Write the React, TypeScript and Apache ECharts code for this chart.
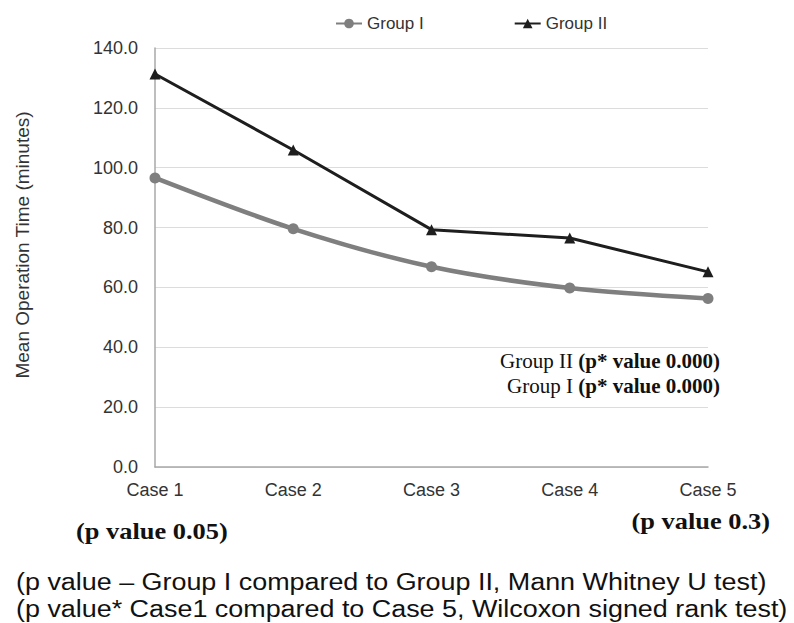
import React, { useEffect, useRef } from "react";
import * as echarts from "echarts";

const categories = ["Case 1", "Case 2", "Case 3", "Case 4", "Case 5"];
const groupI = [96.6, 79.6, 66.9, 59.8, 56.3];
const groupII = [131.3, 105.9, 79.3, 76.5, 65.2];
const yTicks = { min: 0, max: 140, interval: 20 };
const seriesNames = ["Group I", "Group II"];
const yAxisTitle = "Mean Operation Time (minutes)";
const pNotes = ["(p value 0.05)", "(p value 0.3)"];
const groupNotes = ["{a|Group II }{b|(p* value 0.000)}", "{a|Group I }{b|(p* value 0.000)}"];
const noteLines = [
  "(p value – Group I compared to Group II, Mann Whitney U test)",
  "(p value* Case1 compared to Case 5, Wilcoxon signed rank test)",
];

export default function App() {
  const ref = useRef<HTMLDivElement>(null);
  useEffect(() => {
    if (!ref.current) return;
    const chart = echarts.init(ref.current, undefined, { renderer: "svg" });
    const serif = "'Liberation Serif', 'DejaVu Serif', serif";
    const sans = "'Liberation Sans', Arial, sans-serif";
    const rich = {
      a: { fontFamily: serif, fontSize: 21, fill: "#111", color: "#111" },
      b: { fontFamily: serif, fontSize: 21, fontWeight: "bold", fill: "#111", color: "#111" },
    };
    chart.setOption({
      animation: false,
      backgroundColor: "#ffffff",
      textStyle: { fontFamily: sans },
      legend: {
        top: 10,
        left: 330,
        itemGap: 90,
        itemWidth: 26,
        itemHeight: 12,
        textStyle: { fontSize: 17, color: "#333", fontFamily: sans },
        data: seriesNames,
      },
      grid: { left: 155, right: 86, top: 48, bottom: 156 },
      xAxis: {
        type: "category",
        data: categories,
        boundaryGap: false,
        axisLine: { lineStyle: { color: "#a8a8a8", width: 1.5 } },
        axisTick: { show: false },
        axisLabel: { fontSize: 18, color: "#333", margin: 14, fontFamily: sans },
      },
      yAxis: {
        type: "value",
        min: yTicks.min,
        max: yTicks.max,
        interval: yTicks.interval,
        axisLine: { show: true, lineStyle: { color: "#a8a8a8", width: 1.5 } },
        axisTick: { show: false },
        axisLabel: {
          fontSize: 18,
          color: "#333",
          margin: 17,
          fontFamily: sans,
          formatter: (v: number) => v.toFixed(1),
        },
        splitLine: { lineStyle: { color: "#dcdcdc", width: 1 } },
      },
      series: [
        {
          name: seriesNames[0],
          type: "line",
          data: groupI,
          smooth: 0.3,
          symbol: "circle",
          symbolSize: 11,
          itemStyle: { color: "#7f7f7f" },
          lineStyle: { color: "#7f7f7f", width: 4.5 },
        },
        {
          name: seriesNames[1],
          type: "line",
          data: groupII,
          symbol: "triangle",
          symbolSize: 11,
          itemStyle: { color: "#1e1e1e" },
          lineStyle: { color: "#1e1e1e", width: 3 },
        },
      ],
      graphic: [
        {
          type: "text",
          x: 22,
          y: 245,
          rotation: Math.PI / 2,
          style: {
            text: yAxisTitle,
            fontFamily: sans,
            fontSize: 19,
            fill: "#333",
            align: "center",
            verticalAlign: "middle",
          },
        },
        {
          type: "text",
          x: 720,
          y: 361,
          style: { text: groupNotes[0], rich, align: "right", verticalAlign: "middle" },
        },
        {
          type: "text",
          x: 720,
          y: 386,
          style: { text: groupNotes[1], rich, align: "right", verticalAlign: "middle" },
        },
        {
          type: "text",
          x: 76,
          y: 531,
          scaleX: 1.1,
          style: {
            text: pNotes[0],
            fontFamily: serif,
            fontSize: 24,
            fontWeight: "bold",
            fill: "#111",
            verticalAlign: "middle",
          },
        },
        {
          type: "text",
          x: 770,
          y: 521,
          scaleX: 1.1,
          style: {
            text: pNotes[1],
            fontFamily: serif,
            fontSize: 24,
            fontWeight: "bold",
            fill: "#111",
            align: "right",
            verticalAlign: "middle",
          },
        },
        {
          type: "text",
          x: 16,
          y: 582,
          scaleX: 1.17,
          style: { text: noteLines[0], fontFamily: sans, fontSize: 23, fill: "#111", verticalAlign: "middle" },
        },
        {
          type: "text",
          x: 16,
          y: 609,
          scaleX: 1.17,
          style: { text: noteLines[1], fontFamily: sans, fontSize: 23, fill: "#111", verticalAlign: "middle" },
        },
      ],
    });
    return () => chart.dispose();
  }, []);
  return (
    <div
      ref={ref}
      style={{ position: "absolute", left: 0, top: 0, width: 794, height: 623 }}
    />
  );
}
